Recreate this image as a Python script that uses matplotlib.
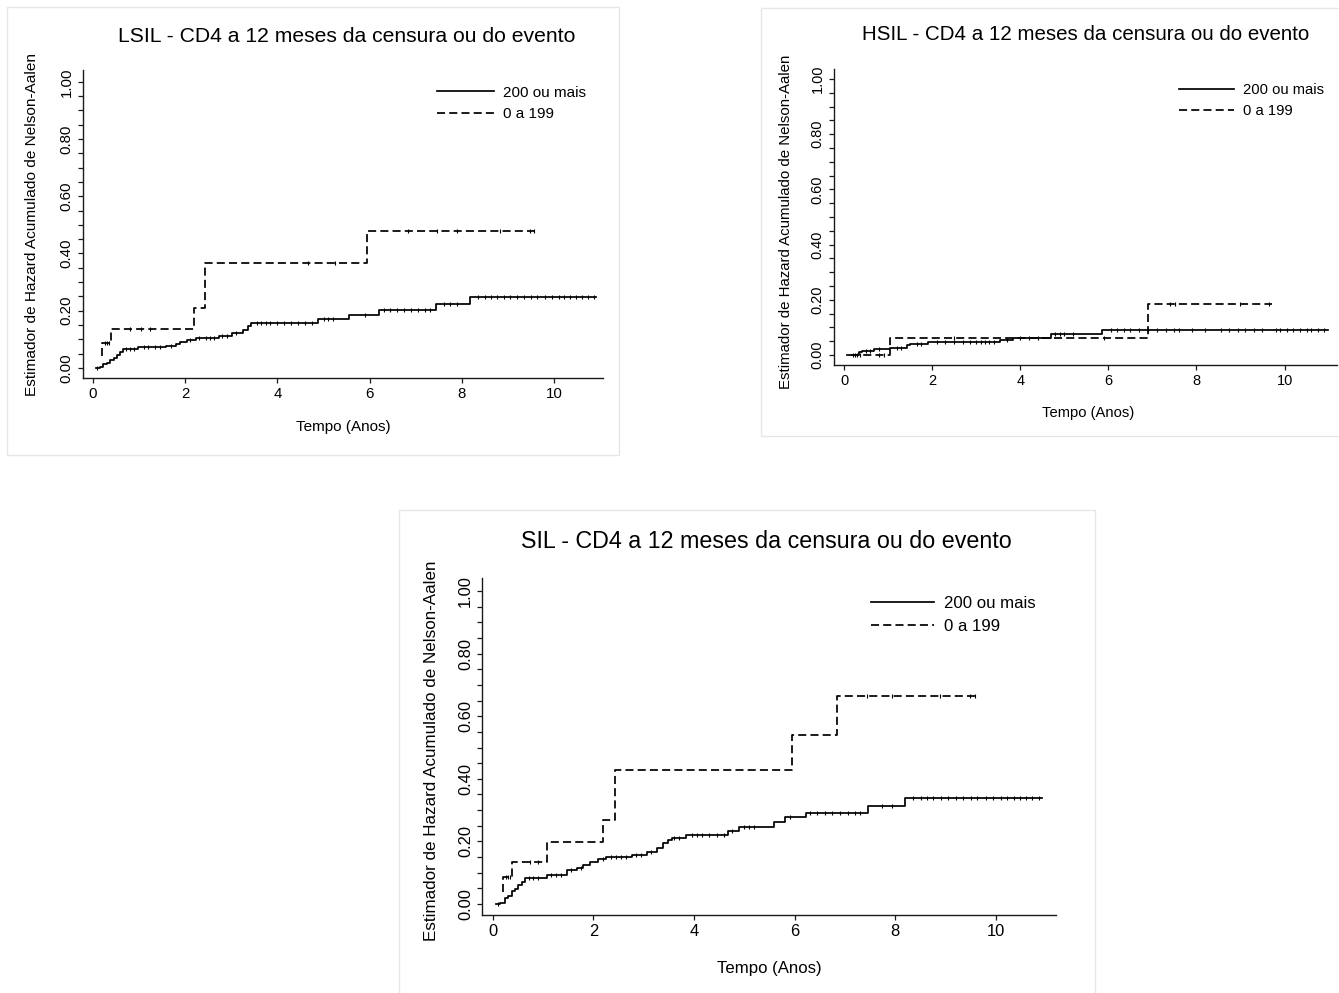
import numpy as np
import matplotlib
matplotlib.use("Agg")
import matplotlib.pyplot as plt
from matplotlib.patches import Rectangle

plt.rcParams["font.family"] = ["Liberation Sans", "DejaVu Sans"]
plt.rcParams["lines.scale_dashes"] = False

# ---------------- data ----------------
series_labels = ["200 ou mais", "0 a 199"]
titles = ["LSIL - CD4 a 12 meses da censura ou do evento",
          "HSIL - CD4 a 12 meses da censura ou do evento",
          "SIL - CD4 a 12 meses da censura ou do evento"]
x_label = "Tempo (Anos)"
y_label = "Estimador de Hazard Acumulado de Nelson-Aalen"
x_ticks = [0, 2, 4, 6, 8, 10]
y_ticks_major = [0.0, 0.2, 0.4, 0.6, 0.8, 1.0]

# LSIL, CD4 >= 200
lsil_hi_t = [0.065, 0.16, 0.23, 0.30, 0.375, 0.45, 0.52, 0.59, 0.66, 0.98, 1.59, 1.81,
             1.88, 2.04, 2.24, 2.73, 3.02, 3.25, 3.36, 3.43, 4.89, 5.56, 6.21, 7.44, 8.17]
lsil_hi_h = [0.000, 0.003, 0.012, 0.017, 0.027, 0.033, 0.044, 0.056, 0.065, 0.072, 0.077, 0.084,
             0.091, 0.096, 0.104, 0.112, 0.121, 0.133, 0.147, 0.158, 0.172, 0.185, 0.203, 0.224, 0.247]
lsil_hi_end = 10.90
lsil_hi_cens = [0.10, 0.72, 0.80, 0.90, 1.10, 1.20, 1.35, 1.45, 1.70, 2.10, 2.30, 2.45, 2.55, 2.62,
                2.80, 2.90, 3.10, 3.55, 3.65, 3.75, 3.85, 4.00, 4.15, 4.30, 4.45, 4.60, 4.75,
                5.00, 5.10, 5.20, 5.90, 6.30, 6.45, 6.60, 6.75, 6.90, 7.05, 7.20, 7.30, 7.60,
                7.75, 7.90, 8.35, 8.50, 8.62, 8.75, 8.90, 9.05, 9.20, 9.35, 9.50, 9.62, 9.80,
                9.95, 10.10, 10.22, 10.35, 10.48, 10.60, 10.72, 10.85]

# LSIL, CD4 0-199
lsil_lo_t = [0.19, 0.20, 0.40, 2.19, 2.43, 5.94]
lsil_lo_h = [0.040, 0.086, 0.137, 0.209, 0.368, 0.479]
lsil_lo_end = 9.57
lsil_lo_cens = [0.26, 0.31, 0.36, 0.80, 1.05, 1.25, 4.67, 5.25, 6.82, 7.45, 7.90, 8.83, 9.48, 9.57]

# HSIL, CD4 >= 200
hsil_hi_t = [0.06, 0.33, 0.40, 0.67, 1.04, 1.42, 1.50, 1.91, 3.54, 3.84, 4.69, 5.85]
hsil_hi_h = [0.000, 0.012, 0.016, 0.021, 0.027, 0.036, 0.040, 0.046, 0.054, 0.062, 0.076, 0.091]
hsil_hi_end = 10.99
hsil_hi_cens = [0.20, 0.26, 0.50, 0.60, 0.80, 1.20, 1.30, 1.65, 1.75, 2.10, 2.30, 2.50, 2.70,
                2.85, 3.00, 3.10, 3.20, 3.30, 3.40, 3.70, 4.00, 4.20, 4.40, 4.80, 4.90, 5.00,
                5.20, 6.05, 6.20, 6.35, 6.50, 6.70, 6.90, 7.10, 7.30, 7.50, 7.60, 7.90, 8.20,
                8.55, 8.75, 8.95, 9.10, 9.30, 9.50, 9.80, 9.90, 10.05, 10.20, 10.35, 10.50,
                10.60, 10.75, 10.90]

# HSIL, CD4 0-199
hsil_lo_t = [0.15, 1.04, 6.91]
hsil_lo_h = [0.000, 0.063, 0.185]
hsil_lo_end = 9.71
hsil_lo_cens = [0.30, 0.36, 0.80, 0.90, 2.50, 5.90, 7.40, 7.52, 9.00, 9.65]

# SIL, CD4 >= 200
sil_hi_t = [0.066, 0.14, 0.24, 0.31, 0.38, 0.44, 0.51, 0.58, 0.64, 1.07, 1.48, 1.67, 1.80,
            1.93, 2.10, 2.26, 2.76, 3.06, 3.26, 3.39, 3.49, 3.56, 3.85, 4.68, 4.90, 5.58,
            5.81, 6.23, 7.46, 8.19]
sil_hi_h = [0.000, 0.004, 0.018, 0.026, 0.043, 0.047, 0.061, 0.071, 0.082, 0.093, 0.109, 0.114,
            0.125, 0.135, 0.144, 0.149, 0.157, 0.167, 0.178, 0.194, 0.204, 0.212, 0.220, 0.233,
            0.247, 0.263, 0.277, 0.291, 0.314, 0.340]
sil_hi_end = 10.92
sil_hi_cens = [0.10, 0.72, 0.80, 0.90, 1.15, 1.25, 1.35, 1.55, 1.75, 2.20, 2.35, 2.45, 2.55,
               2.65, 2.85, 2.95, 3.15, 3.60, 3.70, 3.95, 4.05, 4.15, 4.30, 4.45, 4.60, 4.75,
               5.00, 5.10, 5.20, 5.90, 6.30, 6.45, 6.60, 6.75, 6.90, 7.05, 7.20, 7.30, 7.73,
               7.93, 8.35, 8.50, 8.62, 8.75, 8.90, 9.05, 9.20, 9.35, 9.50, 9.62, 9.80, 9.95,
               10.10, 10.22, 10.35, 10.48, 10.60, 10.72, 10.85]

# SIL, CD4 0-199
sil_lo_t = [0.20, 0.21, 0.39, 1.07, 2.20, 2.43, 5.95, 6.85]
sil_lo_h = [0.039, 0.085, 0.135, 0.199, 0.268, 0.428, 0.540, 0.665]
sil_lo_end = 9.58
sil_lo_cens = [0.26, 0.31, 0.35, 0.75, 0.90, 7.44, 7.93, 8.89, 9.49, 9.58]

# ---------------- layout ----------------
W, H, DPI = 1339, 993, 100
fig = plt.figure(figsize=(W / DPI, H / DPI), dpi=DPI)
fig.patch.set_facecolor("white")

panels = [
    dict(title=titles[0], px0=92.8, pxs=46.15, py0=367.8, pys=286.0,
         xlim=(-0.22, 11.05), ylim=(-0.035, 1.04), s=1.0,
         box=(7, 7, 619, 455), title_xy=(347, 36), ylab_xy=(32, 224), xlab_xy=(343, 427),
         leg_xy=(437, 103.5),
         hi=(lsil_hi_t, lsil_hi_h, lsil_hi_end, lsil_hi_cens),
         lo=(lsil_lo_t, lsil_lo_h, lsil_lo_end, lsil_lo_cens)),
    dict(title=titles[1], px0=844.0, pxs=44.05, py0=355.0, pys=276.0,
         xlim=(-0.23, 11.2), ylim=(-0.036, 1.035), s=0.97,
         box=(761, 8, 1345, 436), title_xy=(1086, 35), ylab_xy=(786, 222), xlab_xy=(1088, 413),
         leg_xy=(1179, 100.5),
         hi=(hsil_hi_t, hsil_hi_h, hsil_hi_end, hsil_hi_cens),
         lo=(hsil_lo_t, hsil_lo_h, hsil_lo_end, hsil_lo_cens)),
    dict(title=titles[2], px0=492.7, pxs=50.33, py0=904.0, pys=313.0,
         xlim=(-0.21, 11.2), ylim=(-0.035, 1.04), s=1.1,
         box=(399, 510, 1095, 1000), title_xy=(766, 542), ylab_xy=(431, 751), xlab_xy=(769, 968),
         leg_xy=(871, 615),
         hi=(sil_hi_t, sil_hi_h, sil_hi_end, sil_hi_cens),
         lo=(sil_lo_t, sil_lo_h, sil_lo_end, sil_lo_cens)),
]


def fx(px):
    return px / W


def fy(py):
    return 1 - py / H


for p in panels:
    s = p["s"]
    # light frame around each chart
    x0, y0, x1, y1 = p["box"]
    fig.patches.append(Rectangle((fx(x0), fy(y1)), fx(x1 - x0), (y1 - y0) / H,
                                 transform=fig.transFigure, fill=False,
                                 edgecolor="#e6e6e6", linewidth=1.0, zorder=0))

    left = p["px0"] + p["xlim"][0] * p["pxs"]
    right = p["px0"] + p["xlim"][1] * p["pxs"]
    top = p["py0"] - p["ylim"][1] * p["pys"]
    bottom = p["py0"] - p["ylim"][0] * p["pys"]
    ax = fig.add_axes([fx(left), fy(bottom), fx(right - left), (bottom - top) / H])
    ax.set_xlim(*p["xlim"])
    ax.set_ylim(*p["ylim"])
    ax.patch.set_alpha(0)
    for sp in ["top", "right"]:
        ax.spines[sp].set_visible(False)
    for sp in ["left", "bottom"]:
        ax.spines[sp].set_linewidth(1.0)
        ax.spines[sp].set_color("#1a1a1a")

    ax.set_xticks(x_ticks)
    ax.set_xticklabels([str(v) for v in x_ticks])
    ax.set_yticks(y_ticks_major)
    ax.set_yticklabels(["%.2f" % v for v in y_ticks_major])
    ax.set_yticks(np.arange(0, 1.0001, 0.05), minor=True)
    ax.tick_params(axis="both", which="both", direction="out", length=3.6, width=0.9,
                   color="#1a1a1a", labelsize=10.8 * s, pad=3)
    ax.tick_params(axis="y", which="minor", length=3.6)
    for lab in ax.get_yticklabels():
        lab.set_rotation(90)
        lab.set_va("center")

    handles = []
    for key, ls in (("hi", "-"), ("lo", (0, (5.8, 3.0)))):
        t, h, end, cens = p[key]
        xs = list(t) + [end]
        ys = list(h) + [h[-1]]
        ln, = ax.step(xs, ys, where="post", color="black", linewidth=1.25, linestyle=ls)
        handles.append(ln)
        idx = np.searchsorted(np.asarray(t), np.asarray(cens), side="right") - 1
        idx = np.clip(idx, 0, len(h) - 1)
        ax.plot(cens, np.asarray(h)[idx], linestyle="none", marker="|", markersize=3.2 * s,
                markeredgewidth=0.8, color="black")

    fs_leg = 11.0 * s
    hl_px = 57 * s
    ax.legend(handles, series_labels, loc="center left",
              bbox_to_anchor=(fx(p["leg_xy"][0]), fy(p["leg_xy"][1])),
              bbox_transform=fig.transFigure, frameon=False,
              fontsize=fs_leg, handlelength=hl_px / (fs_leg * DPI / 72),
              handletextpad=0.6, labelspacing=0.5, borderpad=0, borderaxespad=0)

    fig.text(fx(p["title_xy"][0]), fy(p["title_xy"][1]), p["title"], ha="center",
             va="center", fontsize=15.2 * s, color="black")
    fig.text(fx(p["ylab_xy"][0]), fy(p["ylab_xy"][1]), y_label, ha="center", va="center",
             rotation=90, fontsize=11.1 * s, color="black")
    fig.text(fx(p["xlab_xy"][0]), fy(p["xlab_xy"][1]), x_label, ha="center", va="center",
             fontsize=11.0 * s, color="black")

fig.savefig("out.png", dpi=DPI, facecolor="white")
